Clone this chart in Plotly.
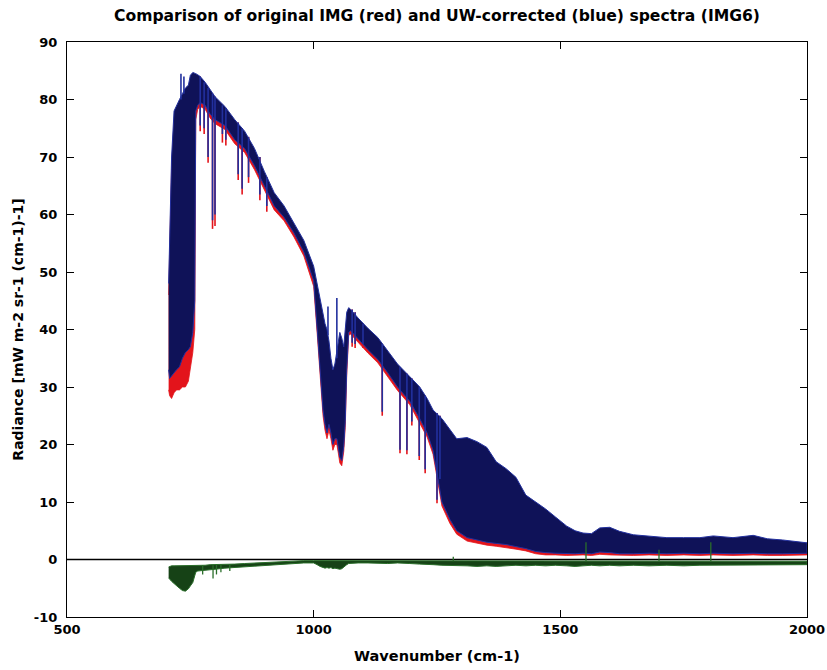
import plotly.graph_objects as go

# ---------------- data ----------------
wn = [706, 708, 712, 717, 722, 728, 734, 740, 746, 750, 755, 759, 761, 765, 770, 780,
      790, 800, 820, 840, 860, 880, 900, 920, 940, 960, 980, 1000, 1007, 1013, 1019,
      1023, 1027, 1031, 1035, 1039, 1043, 1047, 1050, 1053, 1057, 1061, 1064, 1067,
      1071, 1075, 1090, 1110, 1130, 1150, 1170, 1195, 1215, 1230, 1242, 1260, 1276,
      1290, 1311, 1331, 1351, 1370, 1390, 1410, 1430, 1450, 1470, 1490, 1513, 1530,
      1546, 1563, 1580, 1600, 1620, 1648, 1680, 1716, 1750, 1783, 1810, 1850, 1891,
      1920, 1950, 1975, 2000]

# UW-corrected (blue) spectrum: upper / lower envelope of the dense line structure
blue_upper = [48, 56, 70, 78, 79, 80, 81, 82, 82.5, 84.2, 84.7, 84.6, 84.5, 84.3, 84, 83,
              81.7, 80.5, 78.8, 76.5, 74.5, 71.5, 67.5, 63.8, 61.5, 58.5, 55.5, 51, 48, 45, 42.5,
              41, 40, 38, 35, 33, 34, 36, 38, 39.5, 38.5, 37, 40, 43,
              43.8, 43.5, 42, 40.2, 38.6, 36.3, 34, 31.8, 30, 28, 26, 24.5, 22.6,
              21, 21.2, 20.5, 19.5, 17, 15.8, 14.3, 11.2, 10, 8.8, 7.4, 5.8, 5,
              4.6, 4.5, 5.5, 5.6, 4.9, 4.3, 4.1, 3.8, 3.8, 3.8, 4.1, 3.8, 4.2,
              3.6, 3.4, 3.2, 2.9]
blue_lower = [33, 31.5, 32, 32.5, 33, 33.5, 35, 36, 36.5, 37, 39.5, 45, 78, 79, 79.5, 79,
              77.5, 76.5, 75.5, 73, 71.5, 68.5, 65, 61.5, 59.5, 56.8, 53.5, 48.5, 41, 33, 26,
              23.5, 22, 23.5, 22, 20, 21, 21, 19.5, 17.8, 17.2, 19.7, 24, 33,
              39.5, 39.8, 38.5, 36.5, 34.8, 32.5, 30, 27.5, 24.5, 22, 19, 10, 7,
              5, 3.8, 3.4, 3, 2.8, 2.6, 2.3, 1.9, 1.4, 1.2, 1.1, 1, 1,
              1.1, 1, 1.3, 1.2, 1, 1, 1.1, 1, 1.1, 1, 1.1, 1, 1.1,
              1, 1, 1, 1.1]

# original IMG (red) spectrum envelope
red_upper = [46, 54, 68, 76, 77, 78, 79, 80, 80.5, 82, 83, 83, 83, 83, 82.5, 81.5,
             80, 79, 77.3, 75, 73, 70, 66, 62.5, 60.3, 57.3, 54.3, 49.5, 46.5, 43.5, 41,
             39.5, 38.5, 36.5, 33.5, 31.5, 32.5, 34.5, 36.5, 38, 37, 35.5, 38.5, 41.5,
             42.5, 42.3, 40.8, 39, 37.4, 35.2, 33, 30.8, 29, 27, 25, 23.5, 21.6,
             20, 20.2, 19.5, 18.5, 16, 14.8, 13.3, 10.3, 9.2, 8, 6.7, 5.2, 4.5,
             4.2, 4.1, 5, 5.1, 4.5, 4, 3.8, 3.6, 3.6, 3.6, 3.9, 3.6, 4,
             3.4, 3.2, 3, 2.7]
red_lower = [29.5, 28.5, 28, 29, 29.5, 29.5, 30, 30, 31, 33, 36, 40, 76.5, 78.3, 78.8, 78.3,
             76.8, 75.8, 74.8, 72.3, 70.8, 67.8, 64.3, 60.8, 58.9, 56.1, 52.8, 47.5, 39.5, 31.5, 25,
             22.5, 21, 22.5, 21, 19, 20, 20, 18.5, 16.8, 16.3, 18.8, 23, 32,
             39, 39.2, 37.9, 35.9, 34.2, 31.9, 29.4, 26.9, 23.8, 21.3, 18.3, 9.3, 6.3,
             4.4, 3.2, 2.8, 2.5, 2.3, 2.1, 1.8, 1.5, 1.0, 0.8, 0.8, 0.7, 0.7,
             0.8, 0.7, 0.9, 0.8, 0.7, 0.7, 0.8, 0.7, 0.8, 0.7, 0.8, 0.7, 0.8,
             0.7, 0.7, 0.7, 0.8]

# difference spectrum (green), upper / lower envelope
diff_upper = [-1.3, -1.2, -1.1, -1.1, -1.1, -1.1, -1.1, -1.1, -1.1, -1.1, -1.1, -1.1, -1.0, -1.0, -1.0, -1.0,
              -0.9, -0.9, -0.8, -0.8, -0.7, -0.6, -0.5, -0.4, -0.3, -0.2, -0.2, -0.2, -0.2, -0.3, -0.3,
              -0.3, -0.3, -0.3, -0.3, -0.3, -0.3, -0.3, -0.3, -0.3, -0.3, -0.3, -0.3, -0.2,
              -0.2, -0.2, -0.2, -0.2, -0.2, -0.2, -0.2, -0.2, -0.3, -0.3, -0.3, -0.3, -0.3,
              -0.3, -0.3, -0.3, -0.3, -0.3, -0.3, -0.3, -0.3, -0.3, -0.3, -0.3, -0.3, -0.3,
              -0.3, -0.3, -0.3, -0.3, -0.3, -0.3, -0.3, -0.3, -0.3, -0.3, -0.3, -0.3, -0.3,
              -0.3, -0.3, -0.3, -0.3]
diff_lower = [-3.2, -3.4, -3.8, -4.2, -4.6, -5.0, -5.4, -5.5, -5.1, -4.6, -4.0, -3.0, -2.2, -2.0, -2.0, -1.9,
              -1.8, -1.7, -1.5, -1.4, -1.3, -1.2, -1.1, -1.0, -0.9, -0.7, -0.6, -0.6, -0.9, -1.2, -1.4,
              -1.5, -1.4, -1.5, -1.4, -1.6, -1.5, -1.5, -1.6, -1.7, -1.6, -1.4, -1.1, -0.9,
              -0.7, -0.7, -0.6, -0.6, -0.6, -0.7, -0.6, -0.7, -0.8, -0.8, -0.9, -1.0, -1.0,
              -1.1, -1.1, -1.2, -1.1, -1.2, -1.1, -1.0, -1.1, -1.0, -1.1, -1.0, -1.1, -1.2,
              -1.1, -1.0, -1.1, -1.0, -1.1, -1.0, -1.1, -1.0, -1.1, -1.0, -1.0, -0.9, -1.0,
              -0.9, -1.0, -0.9, -0.9]

# individual deep absorption lines: position, top, blue bottom, red bottom
line_wn = [770, 778, 786, 795, 800, 815, 822, 847, 855, 868, 891, 905,
           1078, 1084, 1100, 1139, 1175, 1189, 1199, 1214, 1226, 1250, 1256]
line_top = [84, 83, 82, 81, 80.5, 79, 78.5, 76, 75, 73.5, 70, 66.5,
            43.5, 43, 41, 37.5, 33.5, 32.3, 31.5, 30, 28.5, 25.5, 25]
line_blue_bottom = [75.5, 75, 70, 59, 60, 74, 73, 67, 64.5, 66.5, 63.5, 61.5,
                    37.7, 37.5, 37.5, 25.7, 19.1, 19, 24, 18, 15.7, 10.4, 14]
line_red_bottom = [74.5, 74, 69, 57.5, 58, 72.5, 72, 66, 63.5, 65.5, 62.5, 60.5,
                   37, 36.8, 36.8, 25, 18.5, 18.3, 23.3, 17.3, 15, 9.8, 13.3]

# emission spikes rising above the blue envelope
peak_wn = [731, 737, 1029, 1047]
peak_base = [80, 81, 39, 35]
peak_top = [84.5, 84, 44, 45.5]

# spikes in the difference spectrum
dspike_wn = [775, 796, 803, 812, 830, 1283, 1552, 1700, 1805]
dspike_a = [-1.0, -1.0, -0.9, -0.9, -0.8, -0.3, -0.3, -0.3, -0.3]
dspike_b = [-2.6, -3.3, -2.6, -2.2, -2.0, 0.5, 3.0, 1.7, 3.0]

zero_x = [500, 2000]
zero_y = [0, 0]

x_ticks = [500, 1000, 1500, 2000]
y_ticks = [-10, 0, 10, 20, 30, 40, 50, 60, 70, 80, 90]

TITLE = "Comparison of original IMG (red) and UW-corrected (blue) spectra (IMG6)"
XTITLE = "Wavenumber (cm-1)"
YTITLE = "Radiance [mW m-2 sr-1 (cm-1)-1]"

RED = "#e3141b"
BLUE_FILL = "#0f1258"
BLUE_LINE = "#22309e"
GREEN_FILL = "#164216"
GREEN_LINE = "#2a6e2a"


def band(xs, up, lo):
    return xs + xs[::-1], up + lo[::-1]


def segments(xs, a, b):
    sx, sy = [], []
    for x, y0, y1 in zip(xs, a, b):
        sx += [x, x, None]
        sy += [y0, y1, None]
    return sx, sy


fig = go.Figure()

# red (original) spectrum
bx, by = band(wn, red_upper, red_lower)
fig.add_trace(go.Scatter(x=bx, y=by, fill="toself", fillcolor=RED, mode="lines",
                         line=dict(color=RED, width=0.8), hoverinfo="skip", showlegend=False))
sx, sy = segments(line_wn, line_top, line_red_bottom)
fig.add_trace(go.Scatter(x=sx, y=sy, mode="lines", line=dict(color=RED, width=1.6),
                         hoverinfo="skip", showlegend=False))

# blue (corrected) spectrum
bx, by = band(wn, blue_upper, blue_lower)
fig.add_trace(go.Scatter(x=bx, y=by, fill="toself", fillcolor=BLUE_FILL, mode="lines",
                         line=dict(color=BLUE_LINE, width=1), hoverinfo="skip", showlegend=False))
sx, sy = segments(line_wn, line_top, line_blue_bottom)
fig.add_trace(go.Scatter(x=sx, y=sy, mode="lines", line=dict(color=BLUE_LINE, width=1.6),
                         hoverinfo="skip", showlegend=False))
sx, sy = segments(peak_wn, peak_base, peak_top)
fig.add_trace(go.Scatter(x=sx, y=sy, mode="lines", line=dict(color=BLUE_LINE, width=1.6),
                         hoverinfo="skip", showlegend=False))

# zero line
fig.add_trace(go.Scatter(x=zero_x, y=zero_y, mode="lines", line=dict(color="black", width=1.3),
                         hoverinfo="skip", showlegend=False))

# difference (green)
bx, by = band(wn, diff_upper, diff_lower)
fig.add_trace(go.Scatter(x=bx, y=by, fill="toself", fillcolor=GREEN_FILL, mode="lines",
                         line=dict(color=GREEN_LINE, width=1), hoverinfo="skip", showlegend=False))
sx, sy = segments(dspike_wn, dspike_a, dspike_b)
fig.add_trace(go.Scatter(x=sx, y=sy, mode="lines", line=dict(color=GREEN_LINE, width=1.3),
                         hoverinfo="skip", showlegend=False))

FONT = "DejaVu Sans, Liberation Sans, sans-serif"
axis_common = dict(showline=True, linecolor="black", linewidth=1.3, mirror="ticks",
                   ticks="inside", ticklen=7, tickwidth=1, tickcolor="black",
                   showgrid=False, zeroline=False, automargin=False,
                   tickfont=dict(family=FONT, size=13, color="black", weight="bold"))

fig.update_layout(
    width=827, height=670,
    margin=dict(l=67, r=20, t=42, b=53),
    paper_bgcolor="white", plot_bgcolor="white",
    title=dict(text=TITLE, x=0.5, xref="paper", y=1 - 16 / 670, yref="container",
               yanchor="middle", xanchor="center", automargin=False,
               font=dict(family=FONT, size=15.6, color="black", weight="bold")),
    xaxis=dict(range=[500, 2000], tickvals=x_ticks, ticktext=[str(v) for v in x_ticks],
               title=dict(text=XTITLE, standoff=15,
                          font=dict(family=FONT, size=14.5, color="black", weight="bold")),
               **axis_common),
    yaxis=dict(range=[-10, 90], tickvals=y_ticks, ticktext=[str(v) for v in y_ticks],
               ticklabelstandoff=6,
               title=dict(text=YTITLE, standoff=6,
                          font=dict(family=FONT, size=14, color="black", weight="bold")),
               **axis_common),
)

fig.write_html("out.html")
